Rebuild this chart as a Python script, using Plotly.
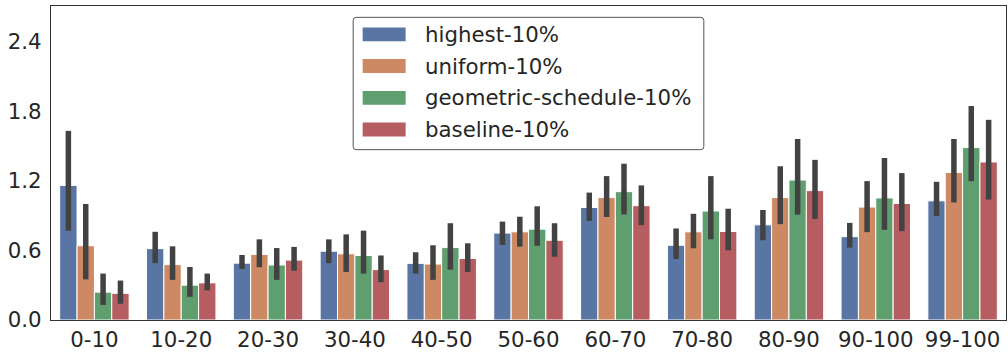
import plotly.graph_objects as go

categories = ["0-10", "10-20", "20-30", "30-40", "40-50", "50-60",
              "60-70", "70-80", "80-90", "90-100", "99-100"]

series_names = ["highest-10%", "uniform-10%", "geometric-schedule-10%", "baseline-10%"]

highest_mean = [1.16, 0.615, 0.49, 0.593, 0.488, 0.749, 0.97, 0.644, 0.82, 0.718, 1.027]
highest_lo = [0.77, 0.49, 0.44, 0.49, 0.40, 0.647, 0.854, 0.525, 0.687, 0.624, 0.896]
highest_hi = [1.63, 0.76, 0.56, 0.695, 0.584, 0.848, 1.098, 0.789, 0.948, 0.837, 1.191]

uniform_mean = [0.64, 0.477, 0.565, 0.57, 0.482, 0.76, 1.055, 0.76, 1.055, 0.973, 1.271]
uniform_lo = [0.35, 0.346, 0.455, 0.414, 0.346, 0.632, 0.888, 0.618, 0.826, 0.757, 1.013]
uniform_hi = [1.0, 0.635, 0.695, 0.738, 0.644, 0.89, 1.24, 0.915, 1.325, 1.197, 1.56]

geometric_mean = [0.24, 0.30, 0.474, 0.556, 0.624, 0.783, 1.106, 0.939, 1.206, 1.052, 1.486]
geometric_lo = [0.13, 0.20, 0.346, 0.40, 0.434, 0.64, 0.91, 0.695, 0.908, 0.777, 1.197]
geometric_hi = [0.40, 0.457, 0.62, 0.77, 0.834, 0.98, 1.347, 1.24, 1.56, 1.396, 1.844]

baseline_mean = [0.23, 0.32, 0.516, 0.434, 0.53, 0.687, 0.985, 0.763, 1.115, 1.004, 1.362]
baseline_lo = [0.14, 0.255, 0.425, 0.326, 0.414, 0.545, 0.817, 0.60, 0.871, 0.766, 1.038]
baseline_hi = [0.34, 0.40, 0.63, 0.556, 0.661, 0.834, 1.16, 0.959, 1.38, 1.266, 1.725]

y_ticks = [0.0, 0.6, 1.2, 1.8, 2.4]

colors = ["#5975a4", "#cc8963", "#5f9e6e", "#b55d60"]
means = [highest_mean, uniform_mean, geometric_mean, baseline_mean]
lows = [highest_lo, uniform_lo, geometric_lo, baseline_lo]
highs = [highest_hi, uniform_hi, geometric_hi, baseline_hi]

FONT = "DejaVu Sans"
TXT = "#262626"
FS = 21.3

fig = go.Figure()
for name, col, m, lo, hi in zip(series_names, colors, means, lows, highs):
    fig.add_trace(go.Bar(
        x=categories, y=m, name=name,
        marker=dict(color=col, line=dict(color="white", width=1)),
        error_y=dict(type="data", symmetric=False,
                     array=[h - v for h, v in zip(hi, m)],
                     arrayminus=[v - l for v, l in zip(m, lo)],
                     color="#424242", thickness=5.5, width=0),
        showlegend=False,
    ))

# Plot area geometry (pixels) for the hand-built legend
W, H = 1008, 353
ML, MR, MT, MB = 51, 1, 6, 29
PW, PH = W - ML - MR, H - MT - MB

def px_x(px):
    return (px - ML) / PW

def px_y(py):
    return (H - MB - py) / PH

# legend box with slightly rounded corners
bx0, bx1, by0, by1 = px_x(353.5), px_x(704.5), px_y(17.5), px_y(151.5)
rx, ry = 3 / PW, 3 / PH
path = (f"M {bx0+rx},{by0} L {bx1-rx},{by0} Q {bx1},{by0} {bx1},{by0-ry} "
        f"L {bx1},{by1+ry} Q {bx1},{by1} {bx1-rx},{by1} "
        f"L {bx0+rx},{by1} Q {bx0},{by1} {bx0},{by1+ry} "
        f"L {bx0},{by0-ry} Q {bx0},{by0} {bx0+rx},{by0} Z")
shapes = [dict(type="path", xref="paper", yref="paper", path=path,
               fillcolor="rgba(255,255,255,0.8)", line=dict(color="#555555", width=1))]
annotations = []
row_centers = [34.7, 66.8, 99.0, 131.1]
for name, col, cy in zip(series_names, colors, row_centers):
    shapes.append(dict(type="rect", xref="paper", yref="paper",
                       x0=px_x(363), x1=px_x(406), y0=px_y(cy - 7), y1=px_y(cy + 7),
                       fillcolor=col, line=dict(width=0)))
    annotations.append(dict(x=px_x(423), y=px_y(cy), xref="paper", yref="paper",
                            text=name, showarrow=False, xanchor="left", yanchor="middle",
                            font=dict(family=FONT, size=FS, color=TXT)))

fig.update_layout(
    width=W, height=H,
    margin=dict(l=ML, r=MR, t=MT, b=MB, pad=0),
    paper_bgcolor="white", plot_bgcolor="white",
    barmode="group", bargap=0.2, bargroupgap=0,
    font=dict(family=FONT, size=FS, color=TXT),
    shapes=shapes, annotations=annotations,
    showlegend=False,
)
fig.update_xaxes(
    showline=True, linecolor="#333333", linewidth=1.3, mirror=True,
    showgrid=False, ticks="", zeroline=False,
    tickfont=dict(family=FONT, size=FS, color=TXT),
)
fig.update_yaxes(
    range=[0, 2.706], tickvals=y_ticks, tickformat=".1f",
    showline=True, linecolor="#333333", linewidth=1.3, mirror=True,
    showgrid=False, ticks="", zeroline=False,
    tickfont=dict(family=FONT, size=FS, color=TXT),
    ticklabelstandoff=4,
)

fig.write_html("out.html")
